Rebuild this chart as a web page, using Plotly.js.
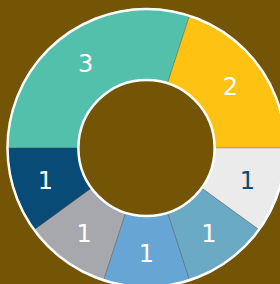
<!DOCTYPE html>
<html>
<head>
<meta charset="utf-8">
<script src="https://cdn.plot.ly/plotly-3.0.1.min.js"></script>
<style>
html,body{margin:0;padding:0;width:280px;height:284px;overflow:hidden;background:#735505;}
#chart{width:300px;height:300px;}
</style>
</head>
<body>
<div id="chart"></div>
<script>
var labels = ["A", "B", "C", "D", "E", "F", "G"];
var values = [3, 2, 1, 1, 1, 1, 1];
var colors = ["#52c0ab", "#fec212", "#ebebeb", "#6aaac4", "#67a5d5", "#a7a8ad", "#074b76"];
var textColors = ["#ffffff", "#ffffff", "#074b76", "#ffffff", "#ffffff", "#ffffff", "#ffffff"];

var dx = [0.025, 0.9517];
var dy = [0.0433, 0.97];
var holeFrac = 0.49;

var trace = {
  type: "pie",
  labels: labels,
  values: values,
  sort: false,
  direction: "clockwise",
  rotation: -90,
  hole: holeFrac,
  domain: {x: dx, y: dy},
  marker: {colors: colors, line: {color: "rgba(90,90,90,0.6)", width: 0.5}},
  textinfo: "value",
  textposition: "inside",
  insidetextorientation: "horizontal",
  textfont: {family: "DejaVu Sans", size: 24, color: textColors},
  showlegend: false,
  hoverinfo: "none"
};

var cx = (dx[0] + dx[1]) / 2, cy = (dy[0] + dy[1]) / 2;
var r = (dx[1] - dx[0]) / 2;
var rh = r * holeFrac;

var layout = {
  width: 300,
  height: 300,
  margin: {l: 0, r: 0, t: 0, b: 0},
  paper_bgcolor: "rgba(0,0,0,0)",
  plot_bgcolor: "rgba(0,0,0,0)",
  showlegend: false,
  shapes: [
    {type: "circle", layer: "above", xref: "paper", yref: "paper", x0: cx - r, x1: cx + r, y0: cy - r, y1: cy + r, line: {color: "rgb(255,255,255)", width: 2.5}},
    {type: "circle", layer: "above", xref: "paper", yref: "paper", x0: cx - rh, x1: cx + rh, y0: cy - rh, y1: cy + rh, line: {color: "rgb(255,255,255)", width: 2.5}}
  ]
};

Plotly.newPlot("chart", [trace], layout, {displayModeBar: false, staticPlot: true});
</script>
</body>
</html>
